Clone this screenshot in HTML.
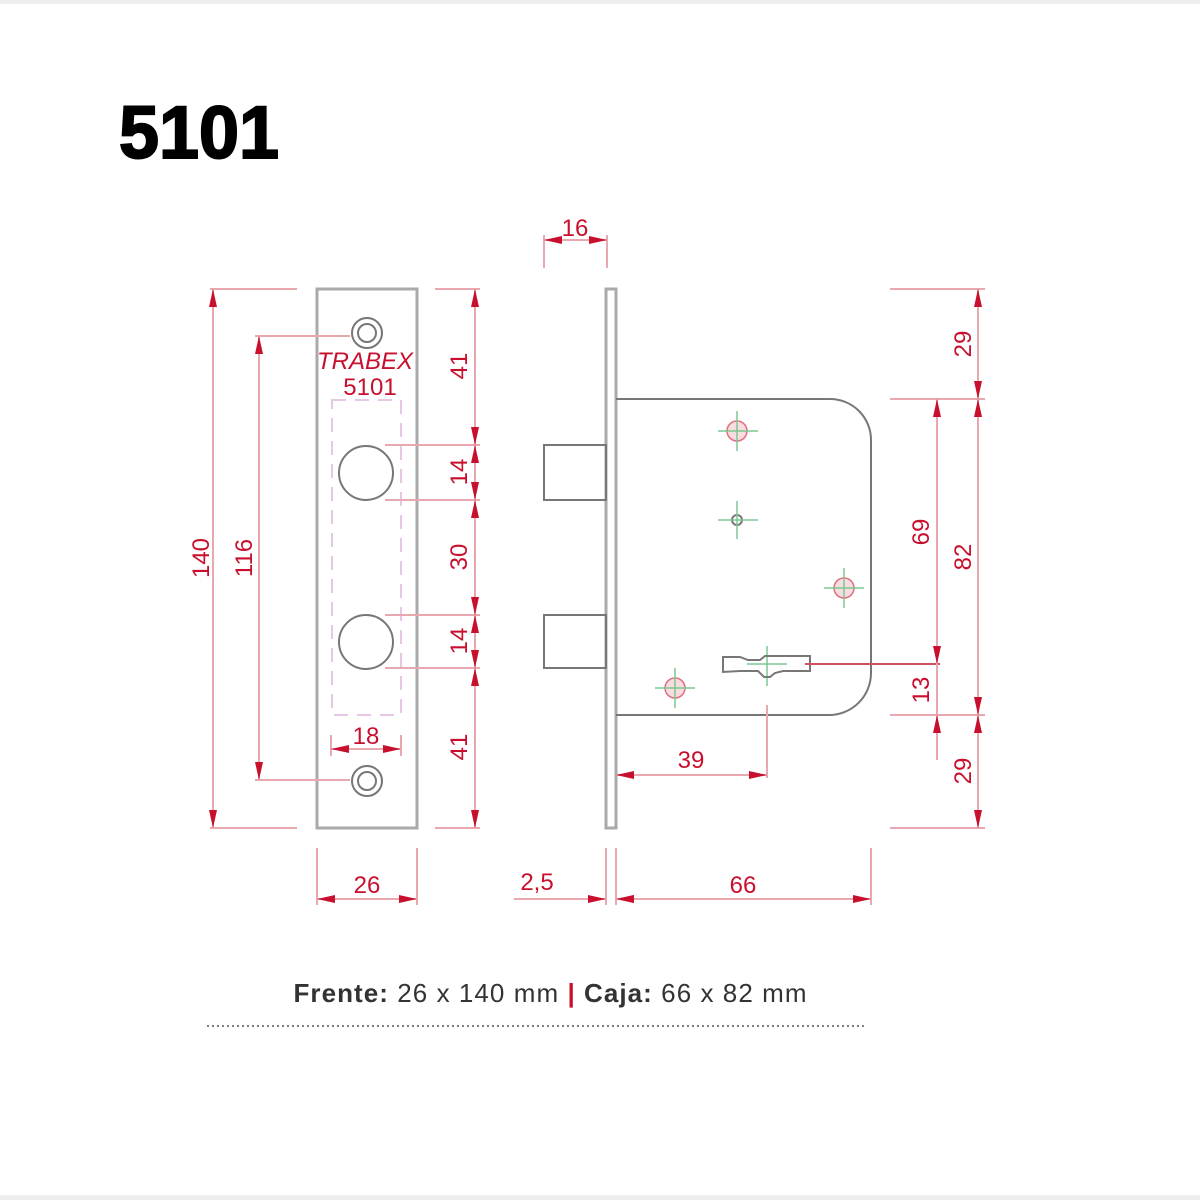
<!DOCTYPE html>
<html><head><style>
body{margin:0;background:#fff;}
svg{display:block}
</style></head><body>
<svg width="1200" height="1200" viewBox="0 0 1200 1200" xmlns="http://www.w3.org/2000/svg" font-family="Liberation Sans, sans-serif">
<defs>
<marker id="a" viewBox="0 0 18 8" refX="18" refY="4" markerWidth="18" markerHeight="8" orient="auto-start-reverse" markerUnits="userSpaceOnUse"><path d="M0,0 L18,4 L0,8 z" fill="#c8102e"/></marker>
</defs>
<style>
.d{stroke:#e9a8b0;stroke-width:2;fill:none}
.dl{stroke:#e9a8b0;stroke-width:2;fill:none;marker-start:url(#a);marker-end:url(#a)}
.t{fill:#c8102e;font-size:24px;text-anchor:middle}
.g{stroke:#777;stroke-width:2;fill:none}
</style>
<rect x="0" y="0" width="1200" height="4" fill="#eee"/>
<rect x="0" y="1195" width="1200" height="5" fill="#eee"/>
<text x="119" y="158" font-size="74" font-weight="bold" fill="#000" stroke="#000" stroke-width="2" textLength="160" lengthAdjust="spacingAndGlyphs">5101</text>

<!-- faceplate -->
<rect x="317" y="289" width="100" height="539" fill="none" stroke="#aaa" stroke-width="3"/>
<circle cx="367" cy="333" r="15" class="g"/><circle cx="367" cy="333" r="9" class="g"/>
<circle cx="367" cy="781" r="15" class="g"/><circle cx="367" cy="781" r="9" class="g"/>
<circle cx="366" cy="473" r="27" class="g" stroke-width="1.5"/>
<circle cx="366" cy="642" r="27" class="g" stroke-width="1.5"/>
<rect x="332" y="400" width="69" height="315" fill="none" stroke="#e6c8e6" stroke-width="2" stroke-dasharray="14,9"/>
<text x="365" y="369" class="t" font-style="italic" font-size="20">TRABEX</text>
<text x="370" y="395" class="t" font-size="24">5101</text>

<!-- 140 -->
<path class="d" d="M210 289H297M210 828H297"/>
<line class="dl" x1="213" y1="289" x2="213" y2="828"/>
<text class="t" transform="translate(209,558) rotate(-90)">140</text>
<!-- 116 -->
<path class="d" d="M255 336H350M255 780H350"/>
<line class="dl" x1="259" y1="336" x2="259" y2="780"/>
<text class="t" transform="translate(252,558) rotate(-90)">116</text>
<!-- right stack -->
<path class="d" d="M435 289H480M385 445H480M385 500H480M385 615H480M385 668H480M435 828H480"/>
<line class="dl" x1="475" y1="289" x2="475" y2="445"/>
<line class="dl" x1="475" y1="445" x2="475" y2="500"/>
<line class="dl" x1="475" y1="500" x2="475" y2="615"/>
<line class="dl" x1="475" y1="615" x2="475" y2="668"/>
<line class="dl" x1="475" y1="668" x2="475" y2="828"/>
<text class="t" transform="translate(467,366) rotate(-90)">41</text>
<text class="t" transform="translate(467,472) rotate(-90)">14</text>
<text class="t" transform="translate(467,557) rotate(-90)">30</text>
<text class="t" transform="translate(467,641) rotate(-90)">14</text>
<text class="t" transform="translate(467,747) rotate(-90)">41</text>
<!-- 18 -->
<path class="d" d="M331 735V756M401 735V756"/>
<line class="dl" x1="331" y1="749" x2="401" y2="749"/>
<text class="t" x="366" y="744">18</text>
<!-- 26 -->
<path class="d" d="M317 848V905M417 848V905"/>
<line class="dl" x1="317" y1="899" x2="417" y2="899"/>
<text class="t" x="367" y="893">26</text>

<!-- side view -->
<rect x="606" y="289" width="10" height="539" fill="none" stroke="#aaa" stroke-width="3"/>
<rect x="544" y="445" width="62" height="55" class="g" stroke="#888"/>
<rect x="544" y="615" width="62" height="53" class="g" stroke="#888"/>
<path class="g" d="M616 399H830A41 41 0 0 1 871 440V673A42 42 0 0 1 829 715H616"/>
<!-- 16 -->
<path class="d" d="M544 235V268M607 235V268"/>
<line class="dl" x1="544" y1="240" x2="607" y2="240"/>
<text class="t" x="575" y="236">16</text>
<!-- screws -->
<g stroke="#e07080" stroke-width="1.5" fill="#f8dde0">
<circle cx="737" cy="431" r="10"/><circle cx="844" cy="588" r="10"/><circle cx="675" cy="688" r="10"/>
</g>
<circle cx="737" cy="520" r="5" class="g" stroke-width="1.5"/>
<g stroke="#7cc890" stroke-width="1.5">
<path d="M718 431H758M737 411V451M718 520H758M737 501V539M824 588H864M844 568V608M655 688H695M675 668V708M747 664H787M767 646V686"/>
</g>
<path class="g" stroke-width="1.5" d="M723 657H740L748 660H760L765 656H810V671H783L775 673L770 677H764L758 671H740L723 672Z"/>
<line x1="805" y1="664" x2="940" y2="664" stroke="#d05060" stroke-width="2"/>
<line x1="767" y1="705" x2="767" y2="778" stroke="#e9a8b0" stroke-width="2"/>
<!-- 39 -->
<line class="dl" x1="616" y1="775" x2="767" y2="775"/>
<text class="t" x="691" y="768">39</text>
<!-- 2,5 -->
<path class="d" d="M606 848V905M616 848V905"/>
<line class="d" x1="514" y1="899" x2="606" y2="899"/>
<path d="M606 899l-18 -4v8z" fill="#c8102e"/>
<path d="M616 899l18 -4v8z" fill="#c8102e"/>
<text class="t" x="537" y="890">2,5</text>
<!-- 66 -->
<path class="d" d="M871 848V905"/>
<line class="dl" x1="616" y1="899" x2="871" y2="899"/>
<text class="t" x="743" y="893">66</text>
<!-- right dims -->
<path class="d" d="M890 289H985M890 399H985M890 715H985M890 828H985"/>
<line class="dl" x1="978" y1="289" x2="978" y2="399"/>
<line class="dl" x1="978" y1="399" x2="978" y2="715"/>
<line class="dl" x1="978" y1="715" x2="978" y2="828"/>
<text class="t" transform="translate(971,344) rotate(-90)">29</text>
<text class="t" transform="translate(971,557) rotate(-90)">82</text>
<text class="t" transform="translate(971,771) rotate(-90)">29</text>
<line class="dl" x1="937" y1="399" x2="937" y2="664"/>
<line class="d" x1="937" y1="664" x2="937" y2="760"/>
<path d="M937 715l-4 18h8z" fill="#c8102e"/>
<text class="t" transform="translate(929,532) rotate(-90)">69</text>
<text class="t" transform="translate(929,690) rotate(-90)">13</text>

<!-- footer -->
<text x="550" y="1002" font-size="26" text-anchor="middle" fill="#333" textLength="513" lengthAdjust="spacing"><tspan font-weight="bold">Frente:</tspan> 26 x 140 mm <tspan fill="#c8102e" font-weight="bold">|</tspan> <tspan font-weight="bold">Caja:</tspan> 66 x 82 mm</text>
<line x1="207" y1="1026" x2="866" y2="1026" stroke="#555" stroke-width="1.5" stroke-dasharray="2,3"/>
</svg>
</body></html>
